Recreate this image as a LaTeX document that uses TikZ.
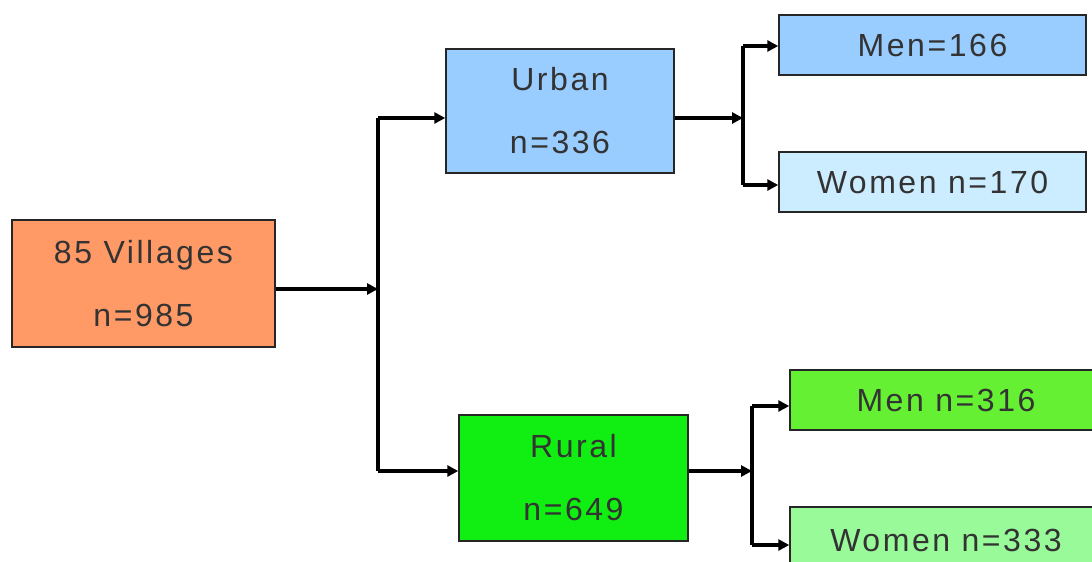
\documentclass[tikz,border=0pt]{standalone}
\usepackage{fontspec}
\setmainfont{Liberation Sans}[LetterSpace=8]
\usetikzlibrary{arrows.meta}
\definecolor{cvil}{HTML}{FF9966}
\definecolor{curb}{HTML}{99CCFF}
\definecolor{cuw}{HTML}{CCECFF}
\definecolor{crur}{HTML}{11EE11}
\definecolor{crm}{HTML}{66F033}
\definecolor{crw}{HTML}{99FA99}
\definecolor{ctxt}{HTML}{333333}
\tikzset{
  box/.style={draw=black!85, line width=1.5pt, inner sep=0pt, align=center,
    text=ctxt, font=\fontsize{32}{63}\selectfont},
  conn/.style={line width=3.6pt, draw=black, line cap=butt},
  arr/.style={conn, -{Triangle[length=11pt,width=11pt]}}
}
\begin{document}
\begin{tikzpicture}[x=1pt,y=-1pt]
\useasboundingbox (0,0) rectangle (1092,562);
\node[box, fill=cvil, minimum width=263pt, minimum height=127pt] (vil) at (143.5,283.5) {85 Villages\\n=985};
\node[box, fill=curb, minimum width=228pt, minimum height=124pt] (urb) at (560,111) {Urban\\n=336};
\node[box, fill=crur, minimum width=229pt, minimum height=126pt] (rur) at (573.5,478) {Rural\\n=649};
\node[box, fill=curb, minimum width=307pt, minimum height=60pt] (um) at (932.5,45) {Men=166};
\node[box, fill=cuw, minimum width=307pt, minimum height=60pt] (uw) at (932.5,182) {Women n=170};
\node[box, fill=crm, minimum width=312pt, minimum height=60pt] (rm) at (946,400) {Men n=316};
\node[box, fill=crw, minimum width=312pt, minimum height=66pt] (rw) at (946,540) {Women n=333};
\coordinate (j1) at (378,289);
\coordinate (j1t) at (378,118);
\coordinate (j1b) at (378,471);
\coordinate (j2) at (743,118);
\coordinate (j2t) at (743,46);
\coordinate (j2b) at (743,185);
\coordinate (j3) at (752,471);
\coordinate (j3t) at (752,406);
\coordinate (j3b) at (752,545);
\draw[arr] (vil.east |- j1) -- (j1);
\draw[conn] (j1t) -- (j1b);
\draw[arr] (j1t) -- (j1t -| urb.west);
\draw[arr] (j1b) -- (j1b -| rur.west);
\draw[arr] (urb.east |- j2) -- (j2);
\draw[conn] (j2t) -- (j2b);
\draw[arr] (j2t) -- (j2t -| um.west);
\draw[arr] (j2b) -- (j2b -| uw.west);
\draw[arr] (rur.east |- j3) -- (j3);
\draw[conn] (j3t) -- (j3b);
\draw[arr] (j3t) -- (j3t -| rm.west);
\draw[arr] (j3b) -- (j3b -| rw.west);
\end{tikzpicture}
\end{document}
